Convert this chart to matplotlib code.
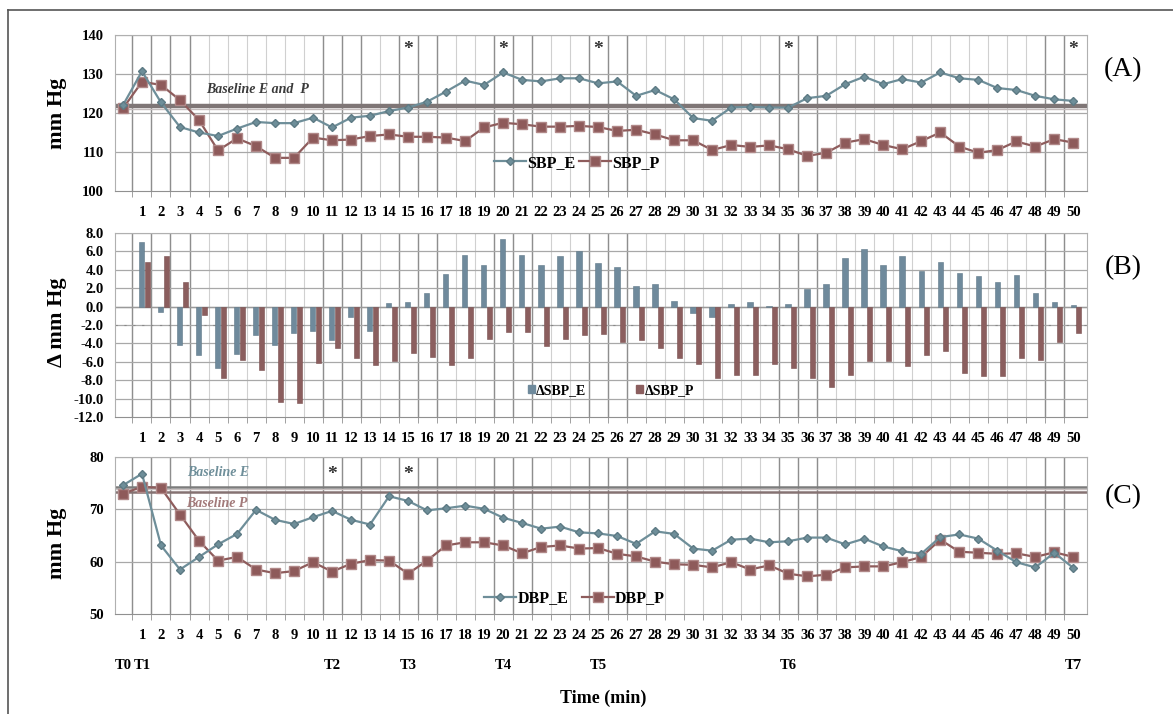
import matplotlib
matplotlib.use("Agg")
import matplotlib.pyplot as plt
from matplotlib.lines import Line2D
from matplotlib.patches import Patch
import numpy as np

plt.rcParams['font.family'] = ['Liberation Serif', 'DejaVu Serif']

# time points 0..50 (T0 = 0)
minutes = list(range(0, 51))
tick_labels = [str(m) for m in minutes[1:]]
t_marks = {0: "T0", 1: "T1", 11: "T2", 15: "T3", 20: "T4", 25: "T5", 35: "T6", 50: "T7"}

# (A) systolic blood pressure
sbp_e = [122.0, 130.7, 122.7, 116.4, 115.0, 114.1, 116.0, 117.7, 117.4, 117.4,
         118.8, 116.3, 118.8, 119.3, 120.5, 121.4, 122.9, 125.5, 128.3, 127.2,
         130.4, 128.5, 128.1, 128.9, 128.9, 127.6, 128.1, 124.4, 125.9, 123.5,
         118.7, 118.0, 121.4, 121.6, 121.4, 121.4, 123.8, 124.4, 127.4, 129.3,
         127.4, 128.7, 127.8, 130.4, 128.9, 128.5, 126.4, 125.9, 124.4, 123.5,
         123.1]
sbp_p = [121.2, 128.0, 127.2, 123.3, 118.2, 110.4, 113.5, 111.5, 108.5, 108.5,
         113.7, 113.0, 113.2, 114.1, 114.5, 113.9, 113.9, 113.7, 112.8, 116.3,
         117.5, 117.1, 116.5, 116.5, 116.7, 116.4, 115.4, 115.7, 114.5, 113.0,
         113.0, 110.5, 111.8, 111.3, 111.7, 110.7, 109.0, 109.8, 112.4, 113.3,
         111.8, 110.7, 112.8, 115.0, 111.4, 109.8, 110.5, 112.7, 111.4, 113.3,
         112.4]
sbp_baseline = 121.8
sbp_stars = [15, 20, 25, 35, 50]

# (B) change in SBP, minutes 1..50
d_sbp_e = [7.0, -0.55, -4.2, -5.3, -6.7, -5.2, -3.1, -4.2, -2.9, -2.7,
           -3.6, -1.1, -2.7, 0.36, 0.45, 1.45, 3.5, 5.6, 4.5, 7.35,
           5.6, 4.5, 5.55, 6.0, 4.7, 4.3, 2.2, 2.45, 0.65, -0.65,
           -1.1, 0.3, 0.45, 0.05, 0.3, 1.9, 2.45, 5.3, 6.3, 4.55,
           5.45, 3.9, 4.9, 3.7, 3.35, 2.65, 3.4, 1.45, 0.55, 0.2]
d_sbp_p = [4.9, 5.45, 2.7, -0.9, -7.8, -5.75, -6.9, -10.4, -10.5, -6.1,
           -4.5, -5.6, -6.4, -5.9, -5.0, -5.45, -6.3, -5.6, -3.55, -2.8,
           -2.8, -4.25, -3.5, -3.1, -3.0, -3.9, -3.6, -4.55, -5.6, -6.2,
           -7.8, -7.45, -7.45, -6.2, -6.7, -7.75, -8.7, -7.45, -5.9, -5.9,
           -6.45, -5.3, -4.8, -7.2, -7.55, -7.55, -5.6, -5.75, -3.9, -2.9]

# (C) diastolic blood pressure
dbp_e = [74.6, 76.8, 63.1, 58.5, 60.9, 63.3, 65.3, 69.9, 68.0, 67.2,
         68.5, 69.7, 68.0, 67.1, 72.5, 71.6, 69.8, 70.2, 70.7, 70.1,
         68.4, 67.4, 66.3, 66.7, 65.6, 65.4, 64.9, 63.4, 65.8, 65.3,
         62.5, 62.1, 64.2, 64.4, 63.7, 63.9, 64.6, 64.6, 63.3, 64.4,
         62.9, 62.0, 61.5, 64.7, 65.2, 64.4, 62.1, 59.9, 58.9, 61.7,
         58.8]
dbp_p = [73.0, 74.3, 74.1, 69.0, 64.0, 60.2, 60.9, 58.5, 57.8, 58.2,
         59.9, 58.1, 59.6, 60.3, 60.2, 57.7, 60.2, 63.1, 63.7, 63.7,
         63.1, 61.6, 62.8, 63.1, 62.5, 62.6, 61.5, 61.0, 60.0, 59.5,
         59.4, 58.9, 59.9, 58.5, 59.3, 57.7, 57.2, 57.5, 58.9, 59.1,
         59.1, 59.9, 60.9, 64.2, 61.9, 61.7, 61.5, 61.6, 60.9, 61.8,
         60.9]
dbp_baseline_e = 74.3
dbp_baseline_p = 73.4
dbp_stars = [11, 15]

# darker vertical separators (category boundaries)
separators = [0.5, 1.5, 2.5, 3.5, 10.5, 11.5, 12.5, 14.5, 15.5, 16.5,
              19.5, 20.5, 21.5, 24.5, 25.5, 26.5, 34.5, 35.5, 36.5, 48.5, 49.5]

col_e = '#6e8e99'
col_p = '#8e5c5c'
W, H = 1173, 714
XLIM = (-0.42, 50.72)


def make_axes(top, bottom):
    left, right = 115, 1087
    ax = fig.add_axes([left / W, 1 - bottom / H, (right - left) / W, (bottom - top) / H])
    ax.set_xlim(*XLIM)
    for m in minutes[:-1]:
        ax.axvline(m + 0.5, color='#d0d0d0', lw=0.8, zorder=0)
    for s in separators:
        ax.axvline(s, color='#8e8e8e', lw=1.0, zorder=0.5)
    ax.set_xticks(minutes[1:])
    ax.set_xticklabels(tick_labels, fontsize=10.5, fontweight='bold')
    ax.set_xticks([m + 0.5 for m in minutes[:-1]], minor=True)
    ax.tick_params(axis='x', which='major', length=0, pad=11)
    ax.tick_params(axis='x', which='minor', length=4, color='#909090')
    ax.tick_params(axis='y', length=0, pad=8, labelsize=10.5)
    for sp in ax.spines.values():
        sp.set_color('#b0b0b0')
        sp.set_linewidth(0.8)
    ax.spines['bottom'].set_color('#909090')
    return ax


fig = plt.figure(figsize=(W / 100, H / 100), dpi=100)

# outer frame
fig.add_artist(Line2D([8 / W, 1.0], [1 - 10 / H, 1 - 10 / H], color='#555555', lw=1.2))
fig.add_artist(Line2D([8 / W, 8 / W], [1 - 10 / H, 0], color='#555555', lw=1.2))

# ---- (A)
axA = make_axes(35, 191)
axA.set_ylim(100, 140)
axA.set_yticks([100, 110, 120, 130, 140])
axA.set_yticklabels(['100', '110', '120', '130', '140'], fontweight='bold', fontsize=10.5)
for v in [110, 120, 130, 140]:
    axA.axhline(v, color='#a8a8a8', lw=0.9, zorder=0.6)
axA.axhline(sbp_baseline, color='#7f7676', lw=3.2, zorder=1)
axA.axhline(sbp_baseline - 0.9, color='#c4bcbc', lw=1.0, zorder=1)
axA.plot(minutes, sbp_e, color=col_e, lw=1.6, marker='D', ms=4.5,
         mfc=col_e, mec='#5d7a84', label='SBP_E', zorder=3)
axA.plot(minutes, sbp_p, color=col_p, lw=1.6, marker='s', ms=7,
         mfc='#8e5a5a', mec='#b08888', label='SBP_P', zorder=2)
axA.text(4.4, 125.9, 'Baseline E and  P', fontsize=10, fontweight='bold',
         style='italic', color='#3a3a3a', va='center')
for s in sbp_stars:
    axA.text(s, 136.2, '*', fontsize=14, fontweight='bold', ha='center',
             va='center', color='#333333')
axA.legend(loc='center', bbox_to_anchor=(0.475, 0.18), ncol=2, frameon=False,
           prop={'weight': 'bold', 'size': 11.5}, handlelength=2.0,
           handletextpad=0.1, columnspacing=0.2)
fig.text(57 / W, 1 - 113 / H, 'mm Hg', rotation=90, ha='center', va='center',
         fontsize=16, fontweight='bold')
fig.text(1123 / W, 1 - 70 / H, '(A)', ha='center', va='center', fontsize=20)

# ---- (B)
axB = make_axes(233, 417)
axB.set_ylim(-12, 8)
b_ticks = list(range(-12, 9, 2))
axB.set_yticks(b_ticks)
axB.set_yticklabels(['%.1f' % t for t in b_ticks], fontweight='bold', fontsize=10.5)
for v in b_ticks[1:]:
    axB.axhline(v, color='#a8a8a8', lw=0.9, zorder=0.6)
axB.axhline(0, color='#9a9a9a', lw=1.0, zorder=0.7)
axB.axhline(-2, color='#888888', lw=0.8, ls=(0, (2, 6)), zorder=0.7)
bw = 0.27
axB.bar([m - 0.01 for m in minutes[1:]], d_sbp_e, width=bw, color='#6f8a9c',
        edgecolor='#5f7888', lw=0.4, label='\u0394SBP_E', zorder=2)
axB.bar([m + 0.27 for m in minutes[1:]], d_sbp_p, width=bw, color='#8b5e5e',
        edgecolor='#7a4f4f', lw=0.4, label='\u0394SBP_P', zorder=2)
axB.legend(handles=[Patch(color='#6f8a9c', label='\u0394SBP_E'),
                    Patch(color='#8b5e5e', label='\u0394SBP_P')],
           loc='center', bbox_to_anchor=(0.51, 0.145), ncol=2, frameon=False,
           prop={'weight': 'bold', 'size': 10}, handlelength=0.5,
           handleheight=0.5, handletextpad=0.1, columnspacing=3.6)
fig.text(57 / W, 1 - 322 / H, '\u0394 mm Hg', rotation=90, ha='center', va='center',
         fontsize=16, fontweight='bold')
fig.text(1123 / W, 1 - 268 / H, '(B)', ha='center', va='center', fontsize=20)

# ---- (C)
axC = make_axes(457, 614)
axC.set_ylim(50, 80)
axC.set_yticks([50, 60, 70, 80])
axC.set_yticklabels(['50', '60', '70', '80'], fontweight='bold', fontsize=10.5)
for v in [60, 70, 80]:
    axC.axhline(v, color='#a8a8a8', lw=0.9, zorder=0.6)
axC.axhline(dbp_baseline_e, color='#7c7c7c', lw=1.8, zorder=1)
axC.axhline((dbp_baseline_e + dbp_baseline_p) / 2, color='#c8c0c0', lw=1.0, zorder=1)
axC.axhline(dbp_baseline_p, color='#857272', lw=1.8, zorder=1)
axC.plot(minutes, dbp_e, color=col_e, lw=1.6, marker='D', ms=4.5,
         mfc=col_e, mec='#5d7a84', label='DBP_E', zorder=3)
axC.plot(minutes, dbp_p, color=col_p, lw=1.6, marker='s', ms=7,
         mfc='#8e5a5a', mec='#b08888', label='DBP_P', zorder=2)
axC.text(3.4, 77.1, 'Baseline E', fontsize=10, fontweight='bold', style='italic',
         color='#6f8f9a', va='center')
axC.text(3.3, 71.2, 'Baseline P', fontsize=10, fontweight='bold', style='italic',
         color='#a27a7a', va='center')
for s in dbp_stars:
    axC.text(s, 76.6, '*', fontsize=14, fontweight='bold', ha='center',
             va='center', color='#333333')
axC.legend(loc='center', bbox_to_anchor=(0.473, 0.10), ncol=2, frameon=False,
           prop={'weight': 'bold', 'size': 11.5}, handlelength=2.0,
           handletextpad=0.1, columnspacing=0.8)
for m, t in t_marks.items():
    axC.text(m, -0.325, t, transform=axC.get_xaxis_transform(), ha='center',
             va='center', fontsize=10.5, fontweight='bold')
fig.text(57 / W, 1 - 543 / H, 'mm Hg', rotation=90, ha='center', va='center',
         fontsize=16, fontweight='bold')
fig.text(1123 / W, 1 - 497 / H, '(C)', ha='center', va='center', fontsize=20)
fig.text(603 / W, 1 - 698 / H, 'Time (min)', ha='center', va='center',
         fontsize=13, fontweight='bold')

fig.savefig('out.png', dpi=100, facecolor='white')
